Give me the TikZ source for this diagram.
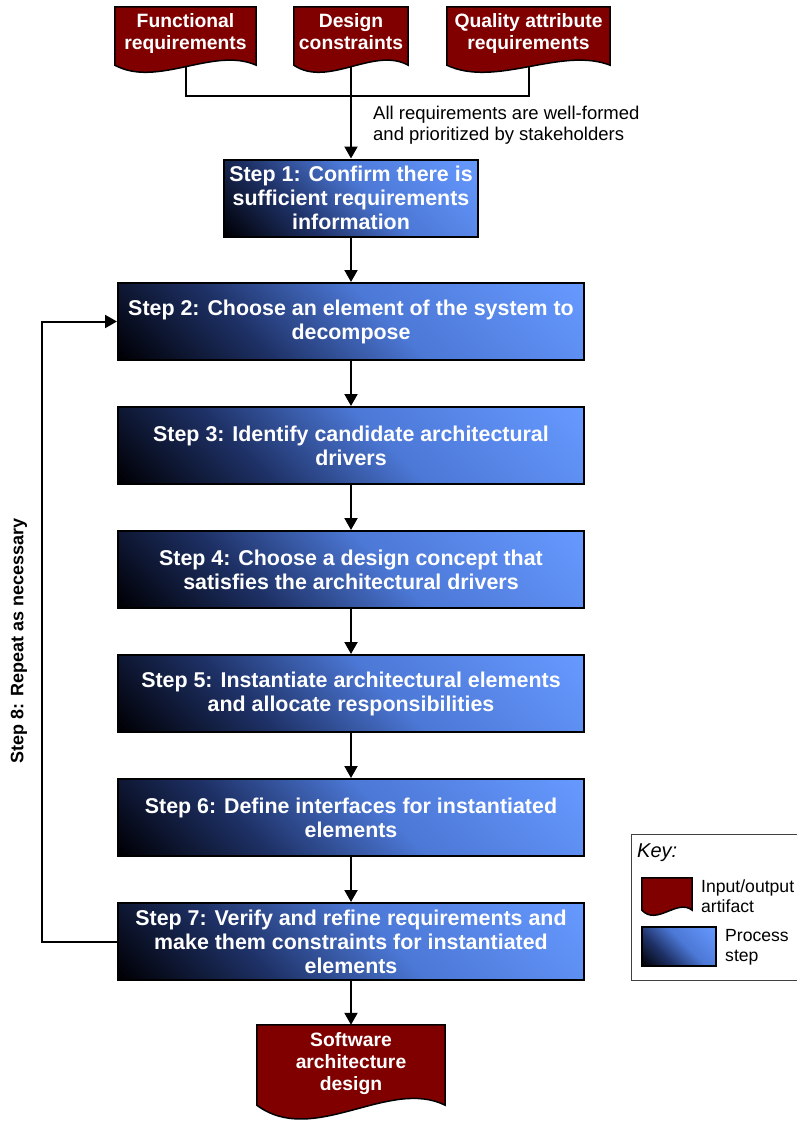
\documentclass[tikz,border=0pt]{standalone}
\usepackage{fontspec}
\setmainfont{Liberation Sans}
\usetikzlibrary{arrows.meta,calc,backgrounds}

\definecolor{artred}{HTML}{800000}
\definecolor{stepdark}{HTML}{000005}
\definecolor{stepdeep}{HTML}{1E3166}
\definecolor{stepmid}{HTML}{4C78D6}
\definecolor{steplight}{HTML}{6699FF}
\definecolor{keygray}{HTML}{404040}

\pgfdeclareverticalshading{stepshade}{100bp}{color(0bp)=(stepdark); color(15bp)=(stepdark); color(35bp)=(stepdeep); color(55bp)=(stepmid); color(85bp)=(steplight); color(100bp)=(steplight)}

\newcommand{\stepfont}{\fontsize{21.4}{24}\selectfont\bfseries}
\newcommand{\docfont}{\fontsize{19.3}{22}\selectfont\bfseries}
\newcommand{\notefont}{\fontsize{18.5}{21.5}\selectfont}
\newcommand{\keyfont}{\fontsize{17.6}{19.5}\selectfont}

% document outline behind an artifact node: name, rise, dip
\newcommand{\docoutline}[3]{%
  \draw[docshape] (#1.north west) -- (#1.north east) -- (#1.south east)
    .. controls ($(#1.south east)!0.3!(#1.south west)+(0,-#2)$)
    and ($(#1.south east)!0.7!(#1.south west)+(0,#3)$) .. (#1.south west) -- cycle;}

\tikzset{
  stepbox/.style={draw=black, line width=2pt, shade, shading=stepshade, shading angle=-45,
    text=white, font=\stepfont, align=center, inner sep=0pt,
    minimum width=466pt, minimum height=77pt},
  artifact/.style={text=white, font=\docfont, align=center, inner sep=0pt, text depth=8pt},
  docshape/.style={draw=black, line width=1.5pt, fill=artred},
  flow/.style={line width=2pt, -{Triangle[length=12pt,width=13pt]}},
  link/.style={line width=2pt},
}

\begin{document}
\begin{tikzpicture}[x=1pt,y=-1pt]
  \useasboundingbox (0,0) rectangle (797,1122);

  % inputs
  \node[artifact, minimum width=141pt, minimum height=58pt] (func) at (185.5,36) {Functional\\requirements};
  \node[artifact, minimum width=114pt, minimum height=58pt] (design) at (351,36) {Design\\constraints};
  \node[artifact, minimum width=163pt, minimum height=58pt] (quality) at (528.5,36) {Quality attribute\\requirements};
  \coordinate (merge) at (351,96);
  \node[font=\notefont, align=left, anchor=west, inner sep=0pt] (note) at (373,125) {All requirements are well-formed\\and prioritized by stakeholders};

  % process steps
  \node[stepbox, minimum width=254pt] (s1) at (351,198) {Step 1: Confirm there is\\sufficient requirements\\information};
  \node[stepbox] (s2) at (351,321.5) {Step 2: Choose an element of the system to\\decompose};
  \node[stepbox] (s3) at (351,445.5) {Step 3: Identify candidate architectural\\drivers};
  \node[stepbox] (s4) at (351,569.5) {Step 4: Choose a design concept that\\satisfies the architectural drivers};
  \node[stepbox] (s5) at (351,693.5) {Step 5: Instantiate architectural elements\\and allocate responsibilities};
  \node[stepbox] (s6) at (351,817.5) {Step 6: Define interfaces for instantiated\\elements};
  \node[stepbox] (s7) at (351,941.5) {Step 7: Verify and refine requirements and\\make them constraints for instantiated\\elements};

  % output
  \node[artifact, minimum width=188pt, minimum height=80pt] (sad) at (351,1065) {Software\\architecture\\design};

  \foreach \a/\b in {s1/s2,s2/s3,s3/s4,s4/s5,s5/s6,s6/s7,s7/sad}
    \draw[flow] (\a.south) -- (\b.north);

  % step 8 loop
  \draw[flow] (s7.west) -- ++(-75,0) |- (s2.west);
  \node[font=\fontsize{18}{20}\selectfont\bfseries, rotate=90] (repeat) at (19,641) {Step 8: Repeat as necessary};

  % key
  \node[draw=keygray, line width=1pt, minimum width=180pt, minimum height=146pt, anchor=north west, inner sep=0pt] (key) at (631,834) {};
  \node[font=\fontsize{20}{22}\selectfont\itshape, anchor=west, inner sep=0pt] (keytitle) at (637,853) {Key:};
  \node[minimum width=50pt, minimum height=32pt, inner sep=0pt] (keyart) at (667,894) {};
  \node[font=\keyfont, align=left, anchor=west, inner sep=0pt] (keyarttext) at (701,896) {Input/output\\artifact};
  \node[stepbox, minimum width=74pt, minimum height=39pt] (keystep) at (679,946.5) {};
  \node[font=\keyfont, align=left, anchor=west, inner sep=0pt] (keysteptext) at (725,947.5) {Process\\step};

  \begin{scope}[on background layer]
    \draw[link] (func.south) |- (merge) -| (quality.south);
    \draw[flow] (design.south) -- (s1.north);
    \docoutline{func}{19}{23}
    \docoutline{design}{19}{23}
    \docoutline{quality}{19}{23}
    \docoutline{sad}{28}{42}
    \docoutline{keyart}{12}{16}
  \end{scope}
\end{tikzpicture}
\end{document}
